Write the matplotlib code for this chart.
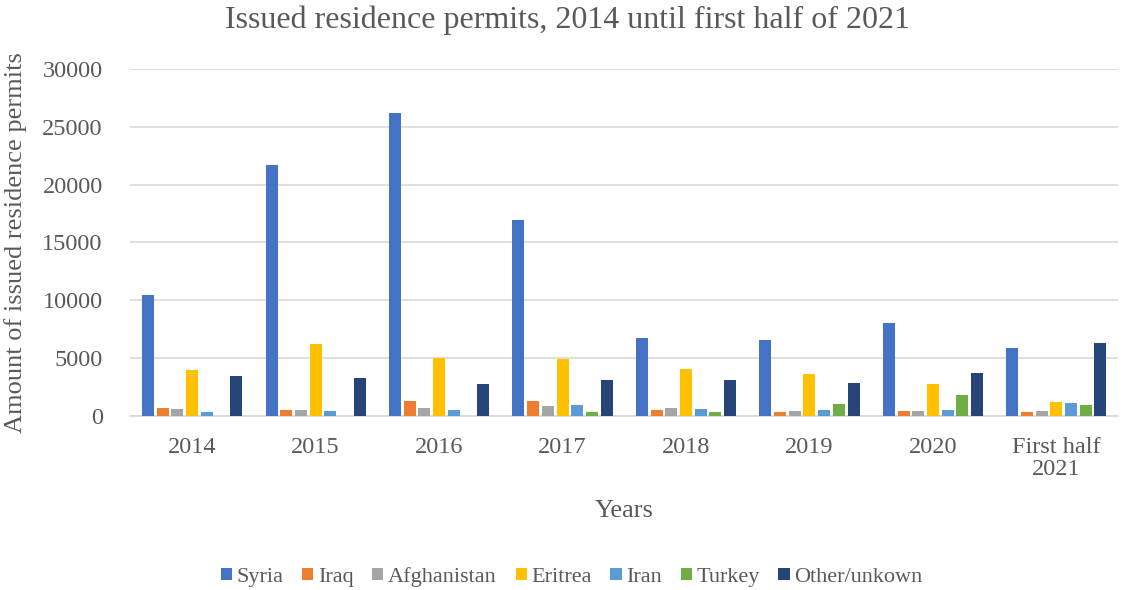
import numpy as np
import matplotlib.pyplot as plt

plt.rcParams['font.family'] = ['Liberation Serif', 'DejaVu Serif']

years = ['2014', '2015', '2016', '2017', '2018', '2019', '2020', 'First half\n2021']
countries = ['Syria', 'Iraq', 'Afghanistan', 'Eritrea', 'Iran', 'Turkey', 'Other/unkown']
colors = ['#4472c4', '#ed7d31', '#a5a5a5', '#ffc000', '#5b9bd5', '#70ad47', '#264478']

syria = [10450, 21700, 26200, 16950, 6700, 6550, 8000, 5850]
iraq = [700, 520, 1270, 1270, 490, 320, 450, 320]
afghanistan = [600, 520, 700, 900, 700, 450, 450, 450]
eritrea = [3950, 6250, 5020, 4960, 4100, 3600, 2750, 1200]
iran = [350, 400, 520, 980, 580, 520, 550, 1130]
turkey = [0, 0, 0, 320, 350, 1040, 1790, 950]
other = [3450, 3300, 2750, 3090, 3090, 2870, 3700, 6290]

series = [syria, iraq, afghanistan, eritrea, iran, turkey, other]

fig, ax = plt.subplots(figsize=(11.34, 5.9), dpi=100)
fig.subplots_adjust(left=0.115, right=0.986, top=0.883, bottom=0.295)

x = np.arange(len(years))
slot = 0.119
width = 0.097
for i, (name, vals) in enumerate(zip(countries, series)):
    offs = (i - 3) * slot
    ax.bar(x + offs, vals, width, color=colors[i], label=name, zorder=3)

ax.set_xlim(-0.5, len(years) - 0.5)
ax.set_ylim(0, 30000)
ax.set_yticks(range(0, 30001, 5000))
ax.set_xticks(x)
ax.set_xticklabels(years, linespacing=1.1)
ax.grid(axis='y', color='#d9d9d9', linewidth=1.2, zorder=0)
for s in ['top', 'right', 'left']:
    ax.spines[s].set_visible(False)
ax.spines['bottom'].set_color('#d9d9d9')
ax.spines['bottom'].set_linewidth(1.2)
ax.tick_params(axis='both', length=0, labelsize=17.5, colors='#595959')
ax.tick_params(axis='y', pad=20)
ax.tick_params(axis='x', pad=15)

fig.suptitle('Issued residence permits, 2014 until first half of 2021',
             fontsize=23, color='#595959', x=0.5, y=0.99, va='top')
ax.set_xlabel('Years', fontsize=19, color='#595959', labelpad=14)
ax.set_ylabel('Amount of issued residence permits', fontsize=19, color='#595959', labelpad=11)

leg = fig.legend(*ax.get_legend_handles_labels(), loc='center', bbox_to_anchor=(0.504, 0.022),
                 ncol=7, frameon=False, fontsize=16, handlelength=0.5, handleheight=0.5,
                 handletextpad=0.2, columnspacing=0.85)
for t in leg.get_texts():
    t.set_color('#595959')

fig.savefig('out.png')
